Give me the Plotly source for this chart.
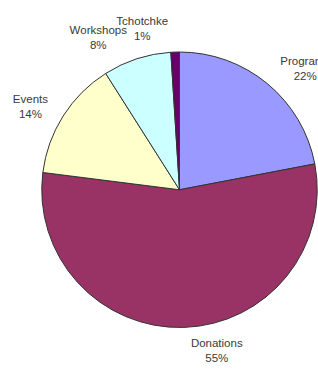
import plotly.graph_objects as go

categories = ["Programs", "Donations", "Events", "Workshops", "Tchotchke"]
values = [22, 55, 14, 8, 1]
colors = ["#9999FF", "#993366", "#FFFFCC", "#CCFFFF", "#660066"]

FW, FH = 350, 369          # figure is a bit wider than the 318px window, like the cropped original
cx, cy, r = 179.5, 189.75, 137.75
r_lab = 147.5              # radius of the transparent rings that carry the outside labels

LABEL_FONT = dict(family="Liberation Sans, Arial, sans-serif", size=11.5, color="#3a3a3a")


def dom(rad):
    return dict(x=[(cx - rad) / FW, (cx + rad) / FW], y=[(FH - cy - rad) / FH, (FH - cy + rad) / FH])


def label_ring(show):
    # transparent pie, only its outside labels are visible
    return go.Pie(
        labels=categories,
        values=values,
        sort=False,
        direction="clockwise",
        rotation=0,
        marker=dict(colors=["rgba(0,0,0,0)"] * len(values), line=dict(width=0)),
        textposition=["outside" if s else "none" for s in show],
        texttemplate="%{label}<br>%{percent:.0%}",
        textfont=LABEL_FONT,
        domain=dom(r_lab),
        showlegend=False,
        hoverinfo="skip",
    )


fig = go.Figure()
# two label rings so the tiny slice's label is not pushed aside by its neighbour
fig.add_trace(label_ring([c != "Tchotchke" for c in categories]))
fig.add_trace(label_ring([c == "Tchotchke" for c in categories]))

# visible pie
fig.add_trace(go.Pie(
    labels=categories,
    values=values,
    sort=False,
    direction="clockwise",
    rotation=0,
    marker=dict(colors=colors, line=dict(color="#333333", width=1)),
    textinfo="none",
    domain=dom(r),
    showlegend=False,
    hoverinfo="label+percent",
))

fig.update_layout(
    width=FW, height=FH,
    margin=dict(l=0, r=0, t=0, b=0),
    paper_bgcolor="white",
    plot_bgcolor="white",
    showlegend=False,
)

fig.write_html(
    "out.html",
    config={"displayModeBar": False},
    post_script="document.body.style.margin='0';document.body.style.overflow='hidden';",
)
